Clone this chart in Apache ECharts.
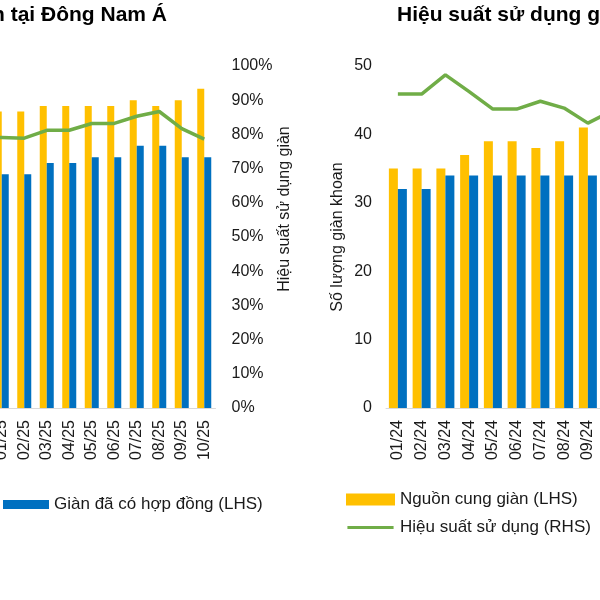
<!DOCTYPE html>
<html>
<head>
<meta charset="utf-8">
<script src="https://cdn.jsdelivr.net/npm/echarts@6/dist/echarts.min.js"></script>
<style>
html,body{margin:0;padding:0;width:600px;height:600px;overflow:hidden;background:#fff;position:relative}
#c{position:absolute;left:-100px;top:0;width:800px;height:600px}
</style>
</head>
<body>
<div id="c"></div>
<script>
// Left chart (Đông Nam Á) – only the visible part of the original
const seaMonths = ['12/24','01/25','02/25','03/25','04/25','05/25','06/25','07/25','08/25','09/25','10/25'];
const seaSupply = [null,52,52,53,53,53,53,54,53,54,56];
const seaContracted = [null,41,41,43,43,44,44,46,46,44,44];
const seaUtilization = [79.1,79.1,78.9,81.2,81.2,83.2,83.2,85.3,86.7,81.7,78.6];

// Right chart
const vnMonths = ['01/24','02/24','03/24','04/24','05/24','06/24','07/24','08/24','09/24','10/24'];
const vnSupply = [35,35,35,37,39,39,38,39,41,null];
const vnContracted = [32,32,34,34,34,34,34,34,34,null];
const vnUtilization = [91.8,91.8,97.4,92.5,87.4,87.4,89.7,87.7,83.3,86.8];

const names = {
  supply: 'Nguồn cung giàn (LHS)',
  contracted: 'Giàn đã có hợp đồng (LHS)',
  util: 'Hiệu suất sử dụng (RHS)'
};
const titles = {
  left: 'Hiệu suất sử dụng giàn tại Đông Nam Á',
  right: 'Hiệu suất sử dụng giàn'
};
const axisNames = {
  leftRhs: 'Hiệu suất sử dụng giàn',
  rightLhs: 'Số lượng giàn khoan'
};

const FONT = "'Liberation Sans', Arial, sans-serif";
const TXT = '#1a1a1a';
const YELLOW = '#FFC000', BLUE = '#0070C0', GREEN = '#70AD47';
const LINE_ICON = 'path://M0,0L0.01,0L0.01,0.01Z M0,9.8L100,9.8L100,16.2L0,16.2Z M0,26L0.01,26L0.01,25.99Z';

const chart = echarts.init(document.getElementById('c'), null, {renderer:'canvas'});

const xAxisCommon = {
  type: 'category',
  axisLine: {show:true, lineStyle:{color:'#D9D9D9', width:1}},
  axisTick: {show:false},
  axisLabel: {rotate:90, margin:12, fontSize:16, color:TXT, fontFamily:FONT, interval:0}
};

chart.setOption({
  animation: false,
  textStyle: {fontFamily: FONT},
  title: [
    {text: titles.left, right: 533, top: 5, padding: 0,
     textStyle:{fontSize:21, fontWeight:'bold', color:'#000', fontFamily:FONT}},
    {text: titles.right, left: 497, top: 5, padding: 0,
     textStyle:{fontSize:21, fontWeight:'bold', color:'#000', fontFamily:FONT}}
  ],
  legend: [
    {data:[{name:names.contracted, icon:'rect'}], left:103, top:496, padding:0,
     itemWidth:46, itemHeight:9, selectedMode:false,
     textStyle:{fontSize:17, color:TXT, fontFamily:FONT}},
    {data:[{name:names.supply, icon:'rect'}, {name:names.util, icon:LINE_ICON}], orient:'vertical',
     left:446, top:491, padding:0, itemGap:11,
     itemWidth:49, itemHeight:12, selectedMode:false,
     textStyle:{fontSize:17, color:TXT, fontFamily:FONT}}
  ],
  grid: [
    {left:68, width:247.5, top:66, bottom:192},
    {left:486, width:237.5, top:66, bottom:192}
  ],
  xAxis: [
    Object.assign({gridIndex:0, data:seaMonths}, xAxisCommon),
    Object.assign({gridIndex:1, data:vnMonths}, xAxisCommon)
  ],
  yAxis: [
    {gridIndex:0, type:'value', position:'left', min:0, max:60, show:false},
    {gridIndex:0, type:'value', position:'right', min:0, max:100, interval:10,
     axisLine:{show:false}, axisTick:{show:false}, splitLine:{show:false},
     axisLabel:{formatter:'{value}%', fontSize:16, color:TXT, fontFamily:FONT, margin:16},
     name: axisNames.leftRhs, nameLocation:'middle', nameGap:58,
     nameTextStyle:{fontSize:16, color:TXT, fontFamily:FONT, padding:[0,0,0,56]}},
    {gridIndex:1, type:'value', position:'left', min:0, max:50, interval:10,
     axisLine:{show:false}, axisTick:{show:false}, splitLine:{show:false},
     axisLabel:{fontSize:16, color:TXT, fontFamily:FONT, margin:14},
     name: axisNames.rightLhs, nameLocation:'middle', nameGap:40,
     nameTextStyle:{fontSize:16, color:TXT, fontFamily:FONT}},
    {gridIndex:1, type:'value', position:'right', min:0, max:100, show:false}
  ],
  series: [
    {name:names.supply, type:'bar', xAxisIndex:0, yAxisIndex:0, data:seaSupply,
     barWidth:7, barGap:'0%', itemStyle:{color:YELLOW}},
    {name:names.contracted, type:'bar', xAxisIndex:0, yAxisIndex:0, data:seaContracted,
     barWidth:7, barGap:'0%', itemStyle:{color:BLUE}},
    {name:names.util, type:'line', xAxisIndex:0, yAxisIndex:1, data:seaUtilization,
     symbol:'none', showSymbol:false, lineStyle:{color:GREEN, width:3.5}, itemStyle:{color:GREEN}, z:5},
    {name:names.supply, type:'bar', xAxisIndex:1, yAxisIndex:2, data:vnSupply,
     barWidth:9, barGap:'0%', itemStyle:{color:YELLOW}},
    {name:names.contracted, type:'bar', xAxisIndex:1, yAxisIndex:2, data:vnContracted,
     barWidth:9, barGap:'0%', itemStyle:{color:BLUE}},
    {name:names.util, type:'line', xAxisIndex:1, yAxisIndex:3, data:vnUtilization,
     symbol:'none', showSymbol:false, lineStyle:{color:GREEN, width:3.5}, itemStyle:{color:GREEN}, z:5}
  ]
});
</script>
</body>
</html>
